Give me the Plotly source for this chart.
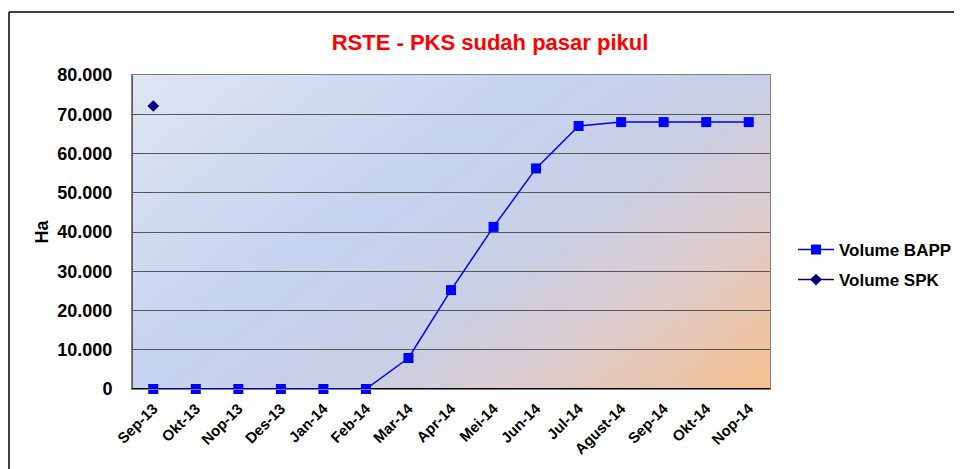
import base64, struct, zlib
import plotly.graph_objects as go

months = ["Sep-13", "Okt-13", "Nop-13", "Des-13", "Jan-14", "Feb-14", "Mar-14",
          "Apr-14", "Mei-14", "Jun-14", "Jul-14", "Agust-14", "Sep-14", "Okt-14", "Nop-14"]
volume_bapp = [0, 0, 0, 0, 0, 0, 7900, 25200, 41300, 56200, 67000, 68000, 68000, 68000, 68000]
spk_months = ["Sep-13"]
volume_spk = [72100]
y_ticks = [0, 10000, 20000, 30000, 40000, 50000, 60000, 70000, 80000]

# ---- gradient background image (plot area) ----
W, H = 200, 100
stops = [(0.0, (222, 229, 243)), (0.40, (198, 211, 239)), (0.60, (201, 207, 229)),
         (0.78, (222, 204, 204)), (1.0, (247, 192, 142))]

def col(t):
    for (t0, c0), (t1, c1) in zip(stops[:-1], stops[1:]):
        if t <= t1:
            f = (t - t0) / (t1 - t0)
            return tuple(int(round(a + (b - a) * f)) for a, b in zip(c0, c1))
    return stops[-1][1]

raw = bytearray()
for j in range(H):
    raw.append(0)
    v = j / (H - 1)
    for i in range(W):
        u = i / (W - 1)
        t = min(1.0, max(0.0, 0.60 * u + 0.40 * v))
        raw.extend(col(t))

def chunk(tag, data):
    c = struct.pack(">I", len(data)) + tag + data
    return c + struct.pack(">I", zlib.crc32(tag + data) & 0xffffffff)

png = (b"\x89PNG\r\n\x1a\n" + chunk(b"IHDR", struct.pack(">IIBBBBB", W, H, 8, 2, 0, 0, 0))
       + chunk(b"IDAT", zlib.compress(bytes(raw), 9)) + chunk(b"IEND", b""))
img_src = "data:image/png;base64," + base64.b64encode(png).decode()

# page has an 8px body margin -> figure coordinates are screen - 8
FW, FH = 954, 461
L, R, T, B = 124, 762, 67, 381
PW, PH = R - L, B - T

fig = go.Figure()
fig.add_trace(go.Scatter(
    x=months, y=volume_bapp, name="<b>Volume BAPP</b>", mode="lines+markers",
    line=dict(color="#0000FF", width=1.5),
    marker=dict(symbol="square", size=10, color="#0000FF"),
    legend="legend", cliponaxis=False,
))
fig.add_trace(go.Scatter(
    x=spk_months, y=volume_spk, name="<b>Volume SPK</b>", mode="lines+markers",
    line=dict(color="#000080", width=1.5),
    marker=dict(symbol="diamond", size=9, color="#000080"),
    legend="legend2", cliponaxis=False,
))

leg_common = dict(xanchor="left", yanchor="middle", font=dict(size=17),
                  bgcolor="rgba(0,0,0,0)", itemwidth=36)
fig.update_layout(
    width=FW, height=FH,
    margin=dict(l=L, r=FW - R, t=T, b=FH - B, autoexpand=False),
    paper_bgcolor="white", plot_bgcolor="rgba(0,0,0,0)",
    font=dict(family="Arial, Liberation Sans, sans-serif", color="black"),
    title=dict(text="<b>RSTE - PKS sudah pasar pikul</b>", x=482 / FW, xanchor="center",
               y=1 - 34 / FH, yanchor="middle", font=dict(size=22, color="#FF0000")),
    showlegend=True,
    legend=dict(x=(785 - L) / PW, y=(B - 242) / PH, **leg_common),
    legend2=dict(x=(785 - L) / PW, y=(B - 272) / PH, **leg_common),
    images=[dict(source=img_src, xref="paper", yref="paper", x=0, y=1, sizex=1, sizey=1,
                 sizing="stretch", layer="below", xanchor="left", yanchor="top")],
)
fig.update_xaxes(
    type="category", categoryorder="array", categoryarray=months,
    range=[-0.5, len(months) - 0.5], automargin=False,
    showgrid=False, showline=True, linecolor="#808080", linewidth=1, mirror=True,
    ticks="", tickangle=-45, tickfont=dict(size=15),
    ticklabelstandoff=4,
    tickvals=months, ticktext=["<b>%s</b>" % m for m in months],
)
fig.update_yaxes(
    range=[0, 80000], automargin=False, tickvals=y_ticks,
    ticktext=["<b>%s</b>" % ("{:,}".format(v).replace(",", ".")) for v in y_ticks],
    showgrid=True, gridcolor="#555555", gridwidth=1,
    showline=True, linecolor="#808080", linewidth=1, mirror=True, zeroline=False,
    ticks="", tickfont=dict(size=18), ticklabelstandoff=15,
    title=dict(text="<b>Ha</b>", font=dict(size=18), standoff=4),
)
# bottom axis line (black) and left axis line
fig.add_shape(type="line", xref="paper", yref="paper", x0=0, x1=1, y0=0, y1=0,
              layer="between", line=dict(color="black", width=2))
fig.add_shape(type="line", xref="paper", yref="paper", x0=0, x1=0, y0=0, y1=1,
              layer="between", line=dict(color="#303030", width=1.5))
# chart frame (top and left edges)
fx0 = (1 - L) / PW
fx1 = (FW - L) / PW
fy0 = (B - 4) / PH
fy1 = (B - FH - 2) / PH
fig.add_shape(type="line", xref="paper", yref="paper", x0=fx0, x1=fx1, y0=fy0, y1=fy0,
              line=dict(color="black", width=1.5))
fig.add_shape(type="line", xref="paper", yref="paper", x0=fx0, x1=fx0, y0=fy0, y1=fy1,
              line=dict(color="black", width=1.5))

fig.write_html("out.html")
